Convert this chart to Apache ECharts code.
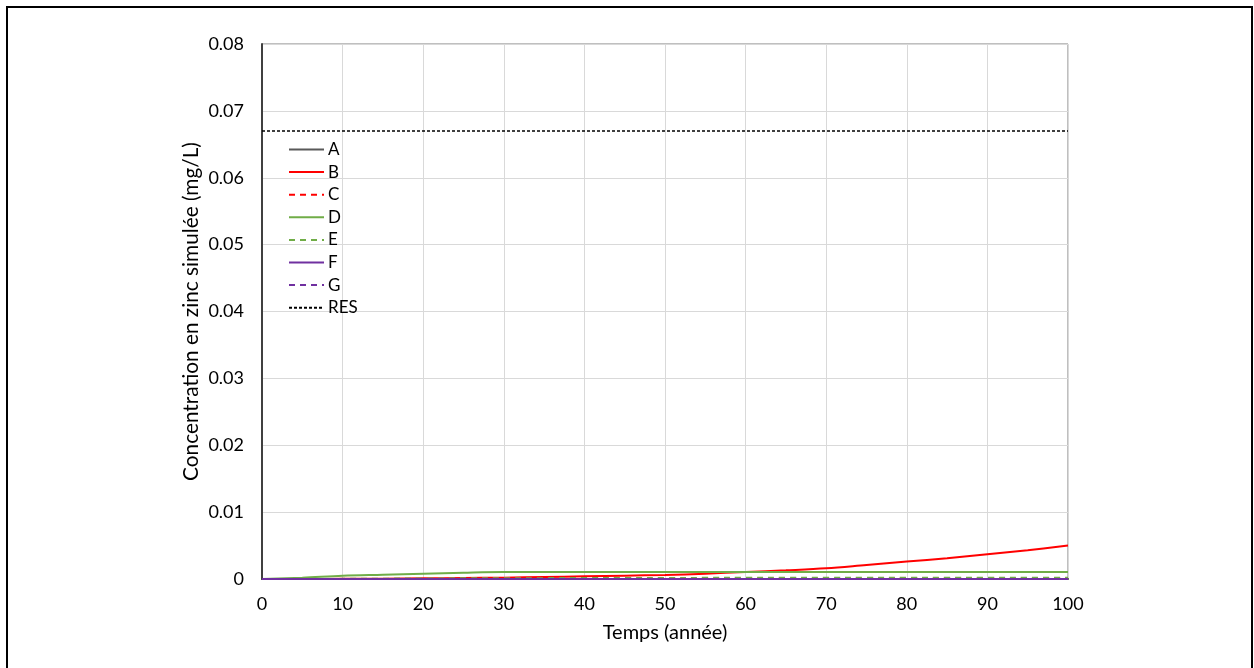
<!DOCTYPE html>
<html>
<head>
<meta charset="utf-8">
<script src="https://cdn.jsdelivr.net/npm/echarts@6/dist/echarts.min.js"></script>
<style>
  html, body { margin: 0; padding: 0; background: #fff; }
  #chart { width: 1254px; height: 668px; }
</style>
</head>
<body>
<div id="chart"></div>
<script>
// Simulated zinc concentration (mg/L) over time (years)
const years = [0, 5, 10, 15, 20, 25, 30, 35, 40, 45, 50, 55, 60, 65, 70, 75, 80, 85, 90, 95, 100];
const seriesA = [0, 0, 0, 0, 0, 0, 0, 0, 0, 0, 0, 0, 0, 0, 0, 0, 0, 0, 0, 0, 0];
const seriesB = [0, 0, 0.00002, 0.00005, 0.0001, 0.00015, 0.0002, 0.0003, 0.0004, 0.0005, 0.0006, 0.0008, 0.00105, 0.0013, 0.0016, 0.0021, 0.0026, 0.0031, 0.0037, 0.0043, 0.005];
const seriesC = [0, 0, 0, 0, 0, 0, 0.00002, 0.00003, 0.00004, 0.00005, 0.00005, 0.00006, 0.00007, 0.00008, 0.00008, 0.00009, 0.0001, 0.0001, 0.0001, 0.0001, 0.0001];
const seriesD = [0, 0.0002, 0.0005, 0.00065, 0.0008, 0.00095, 0.00105, 0.00105, 0.00105, 0.00105, 0.00105, 0.00105, 0.00105, 0.00105, 0.00105, 0.00105, 0.00105, 0.00105, 0.00105, 0.00105, 0.00105];
const seriesE = [0, 0, 0.00002, 0.00005, 0.00008, 0.0001, 0.00012, 0.00013, 0.00014, 0.00015, 0.00016, 0.00017, 0.00018, 0.00019, 0.0002, 0.0002, 0.0002, 0.0002, 0.0002, 0.0002, 0.0002];
const seriesF = [0, 0, 0, 0, 0, 0, 0, 0, 0, 0, 0, 0, 0, 0, 0, 0, 0, 0, 0, 0, 0];
const seriesG = [0, 0, 0, 0, 0, 0, 0, 0, 0, 0, 0, 0, 0, 0, 0, 0, 0, 0, 0, 0, 0];
const resLimit = 0.067;
const yTicks = [0, 0.01, 0.02, 0.03, 0.04, 0.05, 0.06, 0.07, 0.08];

const FONT = 'Lato, "Open Sans", sans-serif';

function pairs(values) {
  return years.map((t, i) => [t, values[i]]);
}

function lineSeries(name, values, color, dash, width) {
  return {
    name: name,
    type: 'line',
    data: pairs(values),
    symbol: 'none',
    smooth: 0.35,
    lineStyle: { color: color, width: width || 2, type: dash || 'solid' },
    itemStyle: { color: color },
    emphasis: { disabled: true }
  };
}

const chart = echarts.init(document.getElementById('chart'), null, { renderer: 'canvas' });

const option = {
  animation: false,
  backgroundColor: '#ffffff',
  textStyle: { fontFamily: FONT },
  graphic: [{
    type: 'rect',
    shape: { x: 7, y: 7, width: 1245, height: 700 },
    style: { fill: 'none', stroke: '#000000', lineWidth: 2 },
    silent: true,
    z: 100
  }],
  grid: { left: 262, top: 44, right: 186, bottom: 89, show: true, borderColor: '#7f7f7f', borderWidth: 1 },
  legend: {
    orient: 'vertical',
    left: 288,
    top: 141,
    padding: 0,
    itemWidth: 35,
    itemHeight: 10,
    itemGap: 5.6,
    itemStyle: { opacity: 0 },
    textStyle: { fontFamily: FONT, fontSize: 17, lineHeight: 17, color: '#000', padding: [0, 0, 0, -1] },
    data: ['A', 'B', 'C', 'D', 'E', 'F', 'G', 'RES']
  },
  xAxis: {
    type: 'value',
    min: 0,
    max: 100,
    interval: 10,
    name: 'Temps (année)',
    nameLocation: 'middle',
    nameGap: 44,
    nameMoveOverlap: false,
    nameTextStyle: { fontFamily: FONT, fontSize: 20, color: '#000' },
    axisLine: { show: true, onZero: false, lineStyle: { color: '#404040', width: 2 } },
    axisTick: { show: false },
    axisLabel: { fontFamily: FONT, fontSize: 18, color: '#000', margin: 16 },
    splitLine: { show: true, lineStyle: { color: '#d9d9d9', width: 1 } }
  },
  yAxis: {
    type: 'value',
    min: 0,
    max: 0.08,
    interval: 0.01,
    name: 'Concentration en zinc simulée (mg/L)',
    nameLocation: 'middle',
    nameGap: 60,
    nameMoveOverlap: false,
    nameTextStyle: { fontFamily: FONT, fontSize: 20.8, color: '#000' },
    axisLine: { show: true, lineStyle: { color: '#404040', width: 2 } },
    axisTick: { show: false },
    axisLabel: {
      fontFamily: FONT, fontSize: 18, color: '#000', margin: 18,
      formatter: function (v) {
        const match = yTicks.find(t => Math.abs(t - v) < 1e-9);
        return match === 0 ? '0' : (match !== undefined ? match.toFixed(2) : '');
      }
    },
    splitLine: { show: true, lineStyle: { color: '#d9d9d9', width: 1 } }
  },
  series: [
    lineSeries('A', seriesA, '#595959'),
    lineSeries('B', seriesB, '#ff0000'),
    lineSeries('C', seriesC, '#ff0000', [6, 5]),
    lineSeries('D', seriesD, '#70ad47'),
    lineSeries('E', seriesE, '#70ad47', [6, 5]),
    lineSeries('F', seriesF, '#7030a0'),
    lineSeries('G', seriesG, '#7030a0', [6, 5]),
    {
      name: 'RES',
      type: 'line',
      data: [[0, resLimit], [100, resLimit]],
      symbol: 'none',
      lineStyle: { color: '#000000', width: 1.5, type: [3, 2] },
      itemStyle: { color: '#000000' },
      emphasis: { disabled: true }
    }
  ]
};

chart.setOption(option);
</script>
</body>
</html>
